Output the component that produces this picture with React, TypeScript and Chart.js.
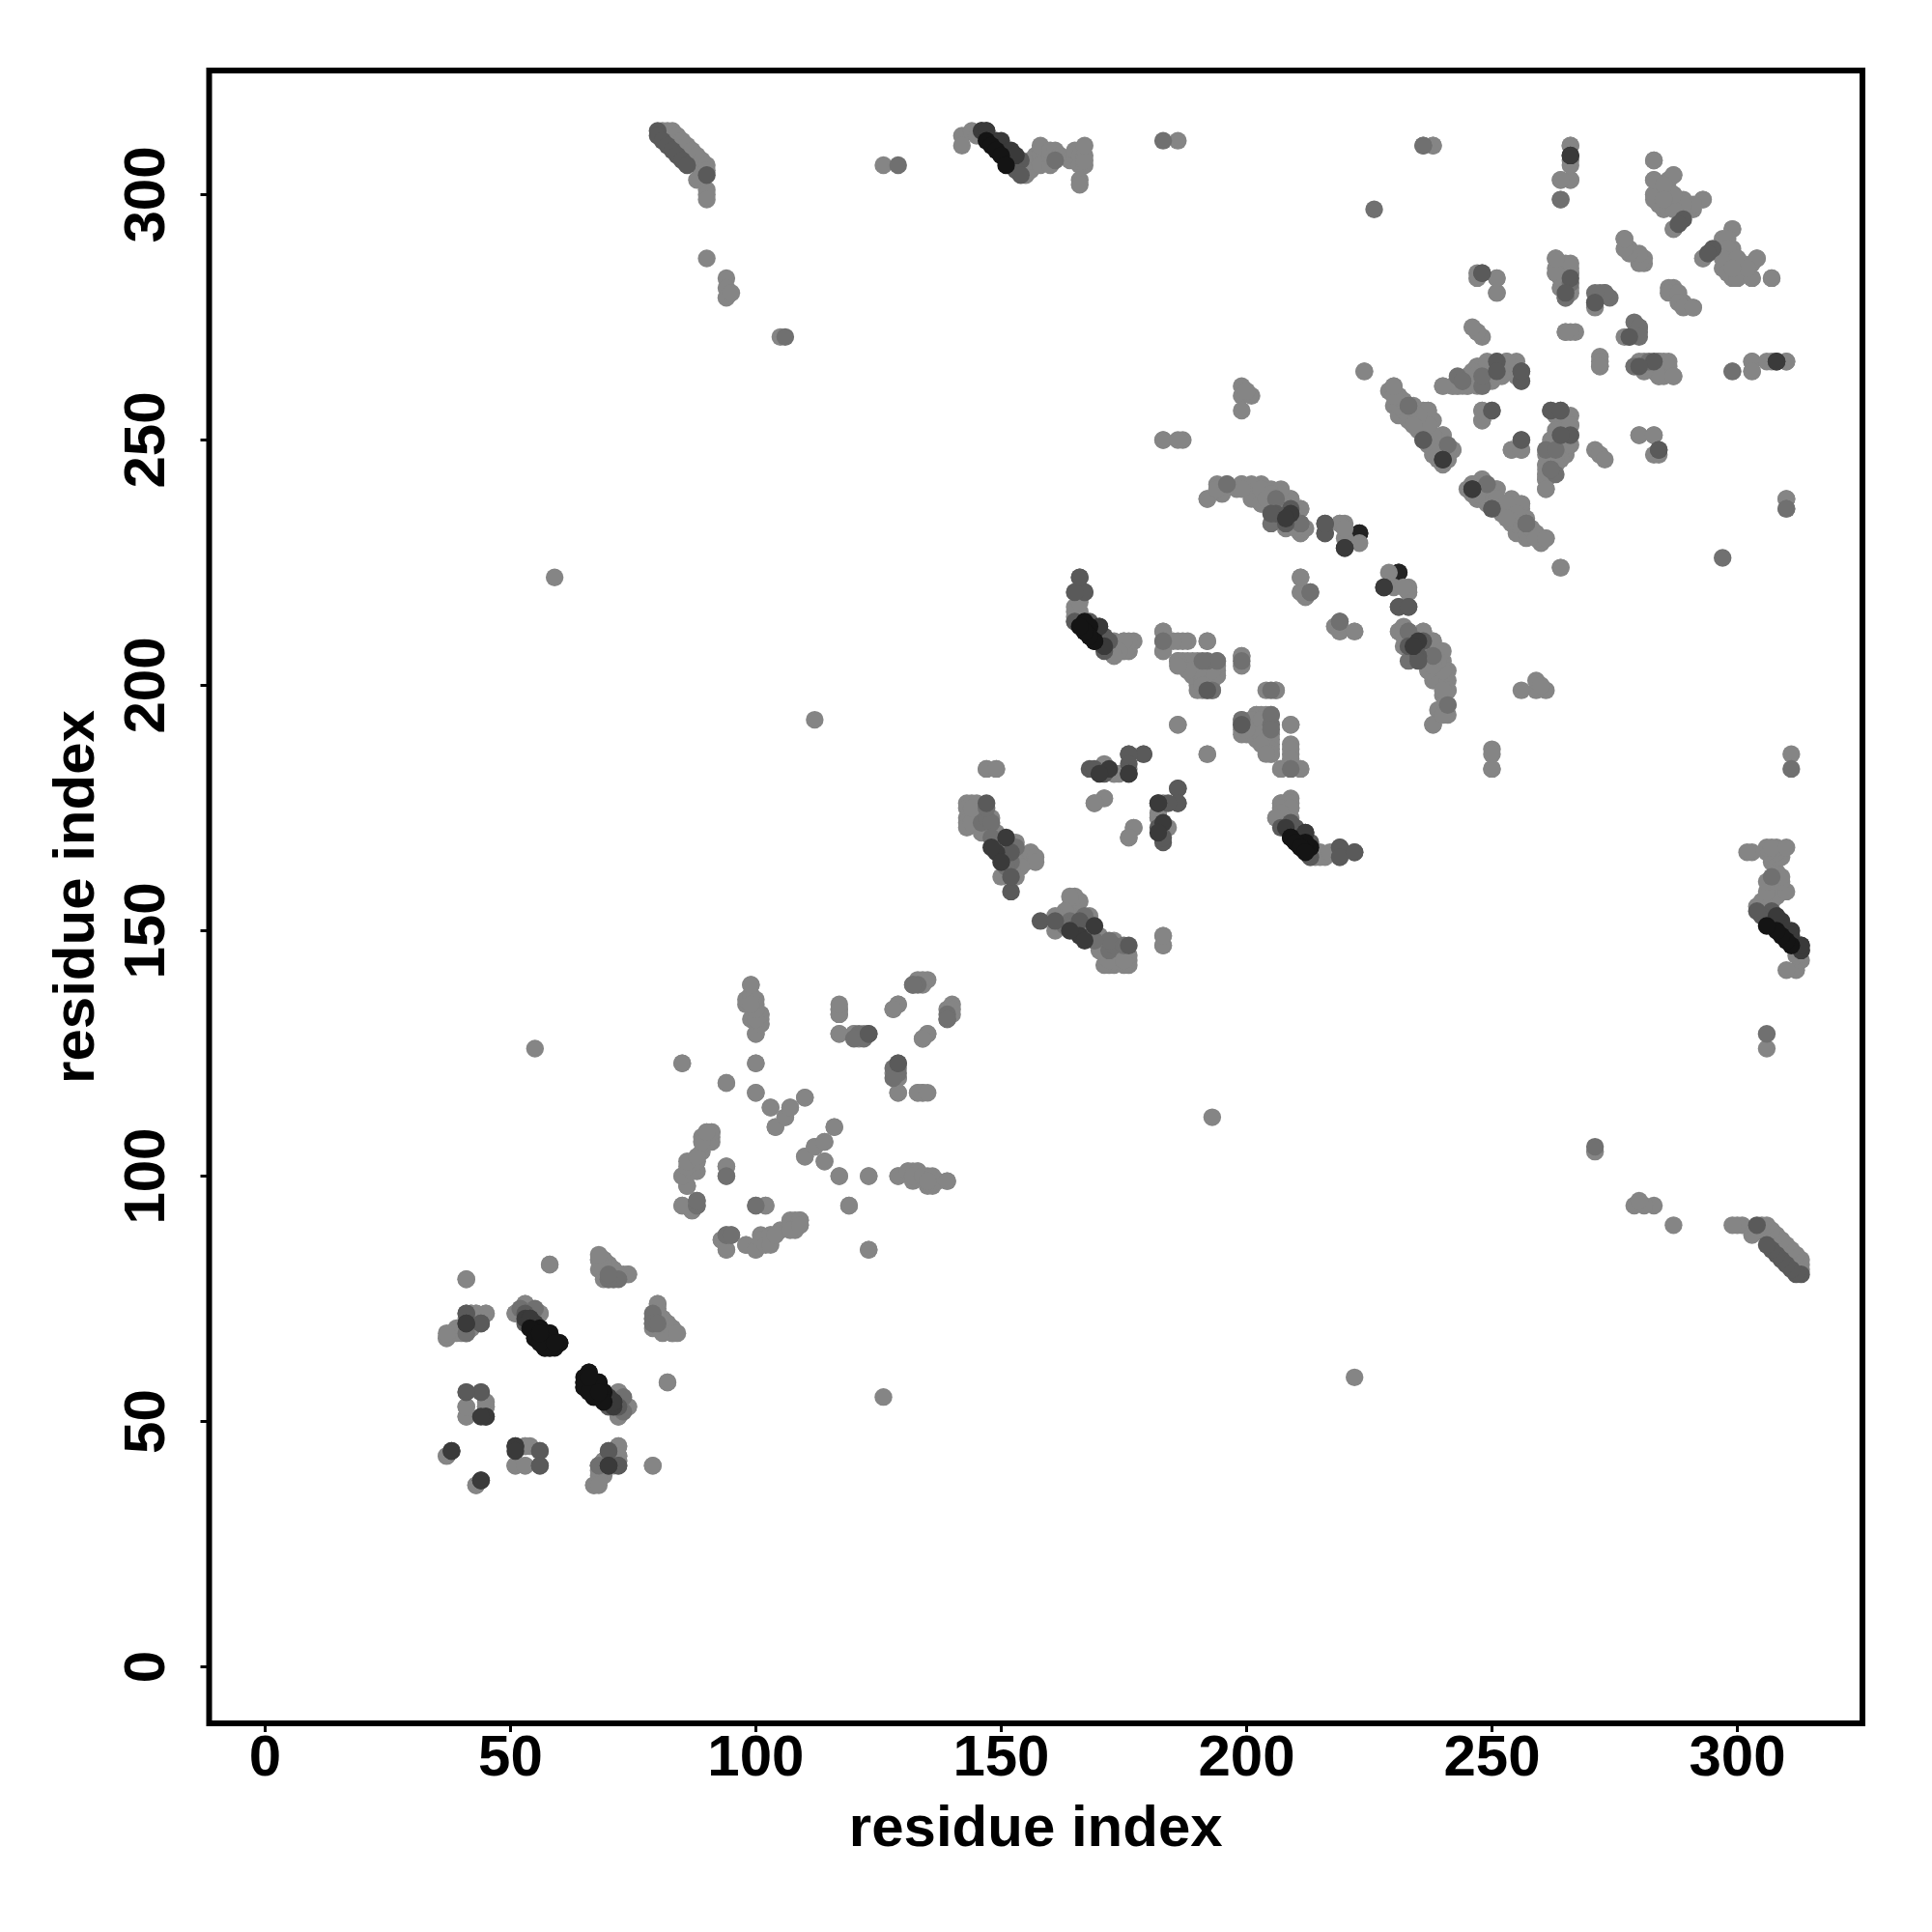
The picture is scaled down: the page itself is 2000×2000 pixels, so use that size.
import React, { useEffect, useRef } from "react";
import { Chart, registerables } from "chart.js";

Chart.register(...registerables);

const tickStep = 50;
const axisTitle = "residue index";
const xLimits = [-11.4, 325.5];
const yLimits = [-11.5, 325.3];

// Contacts: the map is symmetric, every pair is shown as (i,j) and (j,i).
const lightContacts = [
  [41,79],[58,82],[37,67],[38,68],[39,69],[41,68],[42,72],[43,72],[45,72],[51,72],[53,74],[56,72],[40,68],[42,69],[41,71],
  [68,83],[69,83],[68,81],[70,82],[71,81],[72,80],[74,80],[73,80],[80,74],[79,71],[79,69],[80,72],[81,71],[82,70],[83,69],[83,68],[84,68],
  [82,58],[55,126],[41,53],[41,51],[45,53],[45,54],[72,56],[74,53],[72,51],[69,54],[37,43],[43,37],
  [53,45],[51,41],[53,41],[72,45],[72,43],[72,42],[71,42],[69,42],[69,40],[68,41],[68,39],[67,37],[68,37],[79,41],
  [99,139],[98,135],[99,136],[100,135],[100,133],[101,133],[101,131],[99,132],[101,132],[100,129],[100,123],[85,123],[94,119],[100,117],
  [103,114],[107,114],[110,116],[106,112],[104,110],[117,134],[117,133],[117,129],[120,129],[121,128],[122,129],
  [133,140],[135,140],[134,139],[129,135],[128,134],[140,134],[135,129],[134,128],[129,120],[129,117],[134,117],[133,117],[135,117],
  [110,104],[112,106],[114,107],[116,110],[114,103],[117,100],[123,100],[129,100],[131,101],[133,101],[132,100],[134,100],[136,100],[136,98],[137,99],[135,99],[139,99],
  [119,94],[123,85],[91,109],[90,109],[89,108],[91,107],[89,105],[88,103],[87,102],[85,100],[88,101],[86,98],[94,102],[85,94],[87,93],
  [100,94],[102,94],[93,87],[94,85],[98,86],[100,85],[101,87],[102,86],[103,88],[103,86],[104,88],[107,90],[108,91],[109,91],[107,89],[109,90],
  [183,149],[183,147],[112,193],[59,222],[126,306],[81,313],[82,313],[83,312],[83,313],[84,312],[84,310],[85,311],[85,309],[86,310],[86,308],[87,309],[87,307],[88,308],[88,306],[89,307],[90,306],[90,305],[89,304],[88,303],[90,301],[90,300],[90,299],
  [90,287],[94,283],[94,281],[94,279],[95,280],[105,271],[142,312],[142,310],[144,313],[145,312],[155,304],[155,306],[156,305],[156,307],[157,308],[158,309],[158,308],[158,310],[158,306],[160,306],[160,308],[160,309],[161,309],[162,308],[164,307],[165,308],[165,309],[166,308],[166,306],[167,306],[167,308],[167,307],[167,310],[166,303],[166,302],
  [186,311],[224,264],[144,176],[143,176],[145,176],[143,175],[144,174],[145,173],[146,175],[143,173],[143,172],[143,171],[146,170],[147,171],[148,170],[149,170],[149,168],[150,168],[150,166],[151,167],[151,165],[152,168],[152,167],[152,165],[152,164],[153,168],[153,166],[153,165],[154,165],[155,164],[156,165],[156,166],[157,165],[157,164],[154,163],[151,163],[150,161],[153,161],[147,183],[149,183],[150,169],[148,171],[148,173],[144,172],[144,175],
  [165,219],[165,215],[165,213],[173,206],[175,209],[177,209],[175,207],[176,207],[172,208],[174,207],[172,209],[173,209],[174,208],[183,211],[183,207],[186,209],[188,209],[192,209],[186,205],[188,205],[190,205],[194,205],[190,202],[193,203],[194,202],[194,203],[191,199],[193,201],[191,204],[192,203],[192,201],[191,202],[193,204],[190,200],[192,199],
  [199,206],[186,192],[192,186],[204,199],[206,199],[199,193],[199,190],[202,194],[204,194],[202,191],[202,189],[205,189],[205,187],[205,186],[209,192],[209,187],[209,185],[207,183],[209,183],[211,183],[200,192],[201,193],[201,191],[203,193],[203,190],[200,191],[203,188],[204,186],
  [211,222],[211,219],[212,218],[218,212],[219,211],[222,211],[220,233],[219,233],[220,230],[229,223],[233,219],[232,220],
  [231,211],[236,211],[238,209],[237,206],[237,203],[240,205],[240,202],[241,199],[240,198],[241,194],[239,195],[238,192],[250,187],[250,183],[236,208],[237,208],[236,205],[238,205],[238,203],[239,202],[239,206],[239,204],[241,203],[238,201],[241,201],
  [171,183],[173,182],[176,183],[174,182],[169,176],[171,177],[177,171],[176,169],[182,173],[184,171],[207,176],[208,176],[209,176],[207,175],[209,175],[207,174],[206,173],[214,165],[215,166],[216,165],[217,166],
  [238,310],[266,310],[264,303],[266,303],[264,299],[266,307],[283,307],[283,303],[287,304],[286,303],[283,300],[283,299],[285,297],[285,299],[286,301],[287,300],[289,299],[291,297],[293,299],[287,293],[288,297],
  [299,293],[298,291],[293,287],[298,289],[297,287],[300,287],[304,287],[298,284],[300,283],[303,283],[307,283],[302,285],[299,285],
  [277,291],[278,289],[279,288],[281,287],[281,286],[286,280],[288,280],[288,278],[289,277],[291,277],
  [263,287],[265,286],[266,285],[263,284],[266,281],[266,284],[265,279],[264,285],[264,283],[265,282],[264,281],[266,280],[265,284],[263,285],[247,284],[251,283],[251,280],[271,278],[247,272],[248,271],[265,272],[267,272],[277,271],[272,266],[272,265],
  [303,266],[303,264],[306,266],[310,266],[284,266],[286,266],[284,263],[287,263],[281,264],[254,265],[251,266],[249,265],[247,265],[247,261],[240,261],[242,261],[243,261],[246,262],[245,261],[244,261],[246,263],[248,263],[248,261],[249,262],[248,265],[252,264],[253,266],[252,265],[250,265],[255,263],[255,266],
  [230,261],[229,260],[231,259],[230,257],[233,255],[236,256],[237,254],[236,255],[240,251],[238,248],[242,248],[238,247],[248,256],[248,254],[262,256],[265,254],[265,252],[265,247],[261,243],[261,242],[261,240],[263,252],[262,250],[264,248],[262,248],[264,246],[263,246],[262,246],[263,245],[261,245],[266,253],[266,249],
  [232,258],[234,256],[235,255],[234,257],[237,256],[235,252],[236,252],[237,251],[237,249],[239,249],[241,247],[241,246],[239,247],[239,246],[239,250],[240,248],
  [254,248],[256,248],[272,247],[273,246],[280,251],[283,251],[283,247],[310,238],[264,224],[248,242],[247,238],[251,240],[249,240],[254,238],[256,237],[254,233],[255,231],[260,230],[258,231],
  [247,241],[248,240],[247,240],[245,240],[249,238],[250,239],[251,238],[252,236],[253,237],[255,235],[255,233],[256,232],[257,231],[258,232],[259,230],[261,230],[253,234],[246,241],[247,239],
  [192,238],[194,240],[196,241],[199,241],[199,240],[203,240],[203,237],[209,238],[207,240],[211,236],[211,231],[205,237],[207,236],[208,236],[210,234],[212,232],[208,232],[210,232],[205,239],[204,238],[199,261],[199,259],[199,256],[201,259],[200,260],[183,250],[186,250],
];
const midContacts = [
  [129,306],[106,271],[183,311],[161,307],[226,297],[167,219],[213,219],[219,213],[183,209],[199,205],[241,196],[233,211],[236,310],[310,236],
  [264,299],[256,250],[257,233],[233,257],[250,236],[208,233],[211,233],[272,280],[273,280],[274,279],[280,273],[280,271],[265,279],[266,282],[243,263],
  [139,133],[139,132],[88,95],[88,94],[94,88],[95,88],[94,100],[132,139],[128,122],[129,121],[128,120],[146,172],[147,173],[148,172],[262,244],[261,248],[263,248],
  [41,68],[70,79],[71,79],[72,79],[79,70],[80,70],[70,54],[73,55],[73,52],[206,238],[244,262],[233,205],[192,205],[193,199],[205,194],[205,191],
  [147,175],[148,169],[153,167],[152,164],[163,151],[241,249],[170,209],
];
const dimContacts = [
  [41,72],[44,70],[41,56],[44,56],[56,44],[56,41],[70,44],[53,72],[123,129],[129,123],[90,304],[80,313],[80,312],[81,311],[82,310],[83,309],[84,308],[85,307],[86,306],
  [154,307],[153,305],[154,304],[166,222],[171,210],[171,207],[168,183],[176,186],[179,186],[186,179],[186,176],[184,176],[183,169],[182,171],[209,172],[213,168],[213,165],
  [219,167],[219,165],[222,166],[216,233],[216,231],[231,216],[233,216],[233,208],[236,250],[248,284],[256,264],[256,262],[264,256],[284,248],[266,283],[265,280],[278,271],[289,295],[294,288],
  [250,256],[199,192],[152,158],[147,176],[152,166],[266,251],[264,251],[53,70],[206,235],[209,236],[72,41],[152,161],[235,205],
];
const darkContacts = [
  [146,313],[147,313],[150,311],[152,309],[149,311],[153,308],[170,212],[169,211],[212,170],[208,171],[151,169],[149,166],[148,167],[150,164],[220,228],
  [228,220],[240,246],[246,240],[235,209],[234,208],[51,45],[45,51],[44,51],[38,44],[44,38],[70,41],[41,70],[53,71],[54,71],[69,56],[70,55],[71,54],
  [266,308],[308,266],[176,182],[182,176],[183,172],[170,182],
];
const blackContacts = [
  [55,67],[56,67],[57,66],[58,65],[57,65],[59,65],[58,68],[56,69],[54,69],[66,60],[65,58],[65,57],[68,58],[67,55],[66,56],[66,59],[68,56],
  [147,311],[148,310],[149,309],[150,308],[151,306],[167,213],[168,212],[167,211],[169,209],[168,210],[209,169],[210,168],[211,167],[212,166],
];
const topContacts = [[60,66],[223,231],[231,223],[146,313],[147,313]];

const groups = [
  { name: "black", values: blackContacts, color: "#141414" },
  { name: "dark", values: darkContacts, color: "#3a3a3a" },
  { name: "dim", values: dimContacts, color: "#5a5a5a" },
  { name: "mid", values: midContacts, color: "#707070" },
  { name: "light", values: lightContacts, color: "#858585" },
  { name: "top", values: topContacts, color: "#232323" },
];

const framePlugin = {
  id: "frame",
  afterDatasetsDraw(chart: any) {
    const { ctx, chartArea: a } = chart;
    ctx.save();
    ctx.strokeStyle = "#000";
    ctx.lineWidth = 6;
    ctx.strokeRect(a.left, a.top, a.right - a.left, a.bottom - a.top);
    ctx.restore();
  },
};

const font = { family: "'Liberation Sans', Arial, sans-serif", size: 60, weight: "bold" as const };

export default function App() {
  const ref = useRef<HTMLCanvasElement>(null);
  useEffect(() => {
    const chart = new Chart(ref.current!, {
      type: "scatter",
      data: {
        datasets: groups.map((g) => ({
          label: g.name,
          data: g.values.flatMap(([a, b]) => [{ x: a, y: b }, { x: b, y: a }]),
          backgroundColor: g.color,
          borderWidth: 0,
          pointRadius: 9.2,
        })),
      },
      plugins: [framePlugin],
      options: {
        animation: false,
        responsive: false,
        devicePixelRatio: 1,
        layout: { padding: { top: 73, right: 72, left: 0, bottom: 0 } },
        plugins: { legend: { display: false }, tooltip: { enabled: false } },
        scales: {
          x: {
            type: "linear",
            min: xLimits[0],
            max: xLimits[1],
            afterFit: (s: any) => { s.height = 216; },
            grid: { drawOnChartArea: false, color: "#000", tickColor: "#000", tickWidth: 3, tickLength: 9 },
            border: { display: false },
            ticks: { stepSize: tickStep, includeBounds: false, color: "#000", font, padding: -8, maxRotation: 0, minRotation: 0 },
            title: { display: true, text: axisTitle, color: "#000", font, padding: { top: 0, bottom: 70 } },
          },
          y: {
            type: "linear",
            min: yLimits[0],
            max: yLimits[1],
            afterFit: (s: any) => { s.width = 216.5; },
            grid: { drawOnChartArea: false, color: "#000", tickColor: "#000", tickWidth: 3, tickLength: 9 },
            border: { display: false },
            ticks: { stepSize: tickStep, includeBounds: false, color: "#000", font, padding: 4, minRotation: 90, maxRotation: 90, crossAlign: "center" },
            title: { display: true, text: axisTitle, color: "#000", font, padding: { top: 44, bottom: 0 } },
          },
        },
      },
    } as any);
    return () => chart.destroy();
  }, []);
  return (
    <div style={{ position: "absolute", left: 0, top: 0, width: 2000, height: 2000, background: "#fff" }}>
      <canvas ref={ref} width={2000} height={2000} style={{ display: "block" }} />
    </div>
  );
}
